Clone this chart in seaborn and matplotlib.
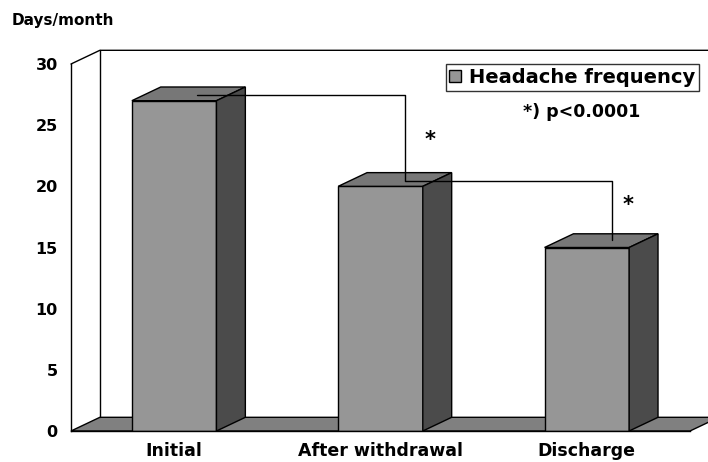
import pandas as pd
import seaborn as sns
import matplotlib.pyplot as plt
from matplotlib.patches import Polygon, Patch

categories = ["Initial", "After withdrawal", "Discharge"]
frequency = [27, 20, 15]
y_ticks = [0, 5, 10, 15, 20, 25, 30]

FRONT = "#969696"
TOP = "#777777"
SIDE = "#4b4b4b"
FLOOR = "#808080"
DX, DY = 0.14, 1.12  # 3d depth offset in data units

sns.set_style("white")
plt.rcParams["font.family"] = ["DejaVu Sans"]
plt.rcParams["font.weight"] = "bold"
plt.rcParams["text.color"] = "black"
plt.rcParams["xtick.color"] = "black"
plt.rcParams["ytick.color"] = "black"

fig = plt.figure(figsize=(7.08, 4.62), dpi=100)
ax = fig.add_axes([71 / 708, 1 - 431 / 462, 619 / 708, 367 / 462])

df = pd.DataFrame({"Stage": categories, "Days": frequency})
sns.barplot(data=df, x="Stage", y="Days", color=FRONT, saturation=1, width=0.41,
            edgecolor="black", linewidth=1, ax=ax, zorder=3)

# top and side faces of each bar
for p in ax.patches:
    x0, w, h = p.get_x(), p.get_width(), p.get_height()
    ax.add_patch(Polygon([(x0, h), (x0 + w, h), (x0 + w + DX, h + DY), (x0 + DX, h + DY)],
                         facecolor=TOP, edgecolor="black", lw=1, zorder=3))
    ax.add_patch(Polygon([(x0 + w, 0), (x0 + w + DX, DY), (x0 + w + DX, h + DY), (x0 + w, h)],
                         facecolor=SIDE, edgecolor="black", lw=1, zorder=3))

# floor and back wall
ax.add_patch(Polygon([(-0.5, 0), (2.5, 0), (2.5 + DX, DY), (-0.5 + DX, DY)],
                     facecolor=FLOOR, edgecolor="black", lw=1, zorder=1, clip_on=False))
ax.plot([-0.5 + DX, -0.5 + DX], [DY, 30 + DY], color="black", lw=1, clip_on=False, zorder=1)
ax.plot([-0.5, -0.5 + DX, 2.5 + DX], [30, 30 + DY, 30 + DY], color="black", lw=1, clip_on=False, zorder=1)

# significance brackets
ax.plot([0.11, 1.12, 1.12, 2.12, 2.12], [27.45, 27.45, 20.45, 20.45, 15.6],
        color="black", lw=1, zorder=5, clip_on=False)
ax.text(1.24, 23.8, "*", fontsize=15, ha="center", va="center")
ax.text(2.2, 18.5, "*", fontsize=15, ha="center", va="center")
ax.text(1.977, 26.1, "*) p<0.0001", fontsize=12.5, ha="center", va="center")

ax.set_xlim(-0.5, 2.5)
ax.set_ylim(0, 30)
ax.set_yticks(y_ticks)
ax.set_yticklabels([str(v) for v in y_ticks], fontsize=11.5)
ax.set_xticks([-0.5, 0.5, 1.5, 2.5])
ax.set_xticklabels([])
ax.set_xticks([0, 1, 2], minor=True)
ax.set_xticklabels(categories, minor=True, fontsize=12.5)
ax.tick_params(axis="x", which="minor", length=0, pad=8)
ax.tick_params(axis="both", which="major", direction="out", length=6, width=1, color="black")
ax.set_xlabel("")
ax.set_ylabel("")
for side in ["top", "right"]:
    ax.spines[side].set_visible(False)
for side in ["left", "bottom"]:
    ax.spines[side].set_color("black")
    ax.spines[side].set_linewidth(1)
    ax.spines[side].set_zorder(4)
ax.patch.set_alpha(0)

leg = ax.legend(handles=[Patch(facecolor=FRONT, edgecolor="black")], labels=["Headache frequency"],
                loc="upper right", bbox_to_anchor=(699 / 708, 1 - 64 / 462), bbox_transform=fig.transFigure,
                borderaxespad=0, fancybox=False, frameon=True, handlelength=0.6, handleheight=0.6,
                handletextpad=0.4, borderpad=0.2, prop={"size": 14, "weight": "bold"})
leg.get_frame().set_edgecolor("black")
leg.get_frame().set_linewidth(1)

fig.text(12 / 708, 1 - 21 / 462, "Days/month", fontsize=11, ha="left", va="center")

fig.savefig("out.png", dpi=100)
